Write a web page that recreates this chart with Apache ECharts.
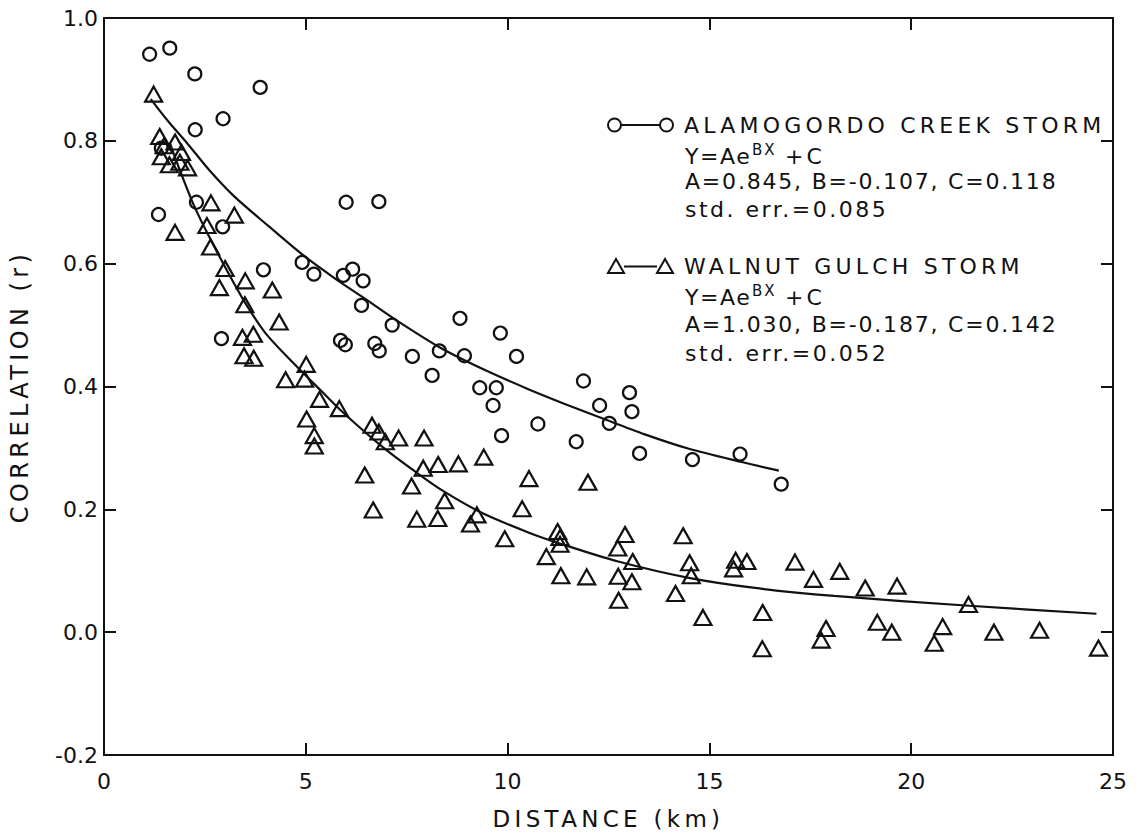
<!DOCTYPE html>
<html><head><meta charset="utf-8">
<script src="https://cdn.jsdelivr.net/npm/echarts@6/dist/echarts.min.js"></script>
<style>html,body{margin:0;padding:0;background:#fff}#c{width:1139px;height:837px}</style>
</head><body><div id="c"></div>
<script>
// ---- data ----
const seriesNames = ['ALAMOGORDO CREEK STORM', 'WALNUT GULCH STORM'];
const formulaParts = ['Y=Ae', 'BX', '+C'];
const paramTexts = ['A=0.845, B=-0.107, C=0.118', 'A=1.030, B=-0.187, C=0.142'];
const errTexts = ['std. err.=0.085', 'std. err.=0.052'];
const xAxisName = 'DISTANCE (km)';
const yAxisName = 'CORRELATION (r)';

const alamogordoPoints = [
  [1.13,0.941],[1.63,0.951],[2.25,0.909],[3.87,0.887],[2.26,0.818],[2.95,0.836],
  [1.35,0.680],[2.29,0.700],[2.94,0.660],[6.00,0.700],[6.81,0.701],[3.95,0.590],
  [4.91,0.602],[5.20,0.583],[5.93,0.581],[6.16,0.591],[6.42,0.572],[6.38,0.532],
  [2.91,0.478],[5.86,0.475],[5.98,0.468],[7.14,0.500],[6.71,0.470],[6.82,0.458],
  [7.64,0.449],[8.31,0.458],[8.82,0.511],[8.93,0.450],[8.13,0.418],[9.82,0.487],
  [10.22,0.449],[9.31,0.398],[9.72,0.398],[9.64,0.369],[9.85,0.320],[10.75,0.339],
  [11.88,0.409],[11.70,0.310],[12.28,0.369],[12.52,0.340],[13.02,0.390],[13.08,0.359],
  [13.27,0.291],[14.58,0.281],[15.76,0.290],[16.78,0.241],[1.42,0.788]
];
const walnutPoints = [
  [1.23,0.876],[1.38,0.807],[1.49,0.792],[1.76,0.798],[1.92,0.781],[1.42,0.774],
  [1.62,0.761],[1.88,0.765],[2.07,0.756],[2.65,0.699],[3.23,0.679],[1.76,0.651],
  [2.55,0.662],[2.64,0.627],[3.00,0.592],[2.86,0.561],[3.50,0.572],[4.17,0.557],
  [3.49,0.533],[4.34,0.505],[3.43,0.480],[3.70,0.485],[3.47,0.450],[3.71,0.446],
  [4.50,0.411],[5.01,0.436],[4.97,0.412],[5.34,0.379],[5.83,0.364],[6.64,0.337],
  [6.81,0.326],[6.97,0.310],[5.02,0.347],[5.21,0.320],[5.21,0.303],[6.46,0.256],
  [6.67,0.199],[7.30,0.316],[7.93,0.316],[7.62,0.238],[7.91,0.267],[8.28,0.273],
  [8.78,0.274],[9.41,0.285],[8.44,0.214],[7.75,0.184],[8.27,0.185],[9.24,0.191],
  [9.08,0.176],[10.36,0.201],[10.53,0.250],[11.99,0.244],[9.93,0.152],[11.24,0.164],
  [11.30,0.154],[11.30,0.143],[10.96,0.123],[11.32,0.092],[11.96,0.090],[12.91,0.159],
  [12.73,0.137],[13.10,0.115],[12.74,0.091],[13.08,0.082],[12.75,0.052],[14.35,0.157],
  [14.51,0.113],[14.55,0.092],[14.16,0.063],[14.84,0.024],[15.65,0.117],[15.93,0.115],
  [15.60,0.103],[17.12,0.114],[17.58,0.086],[18.23,0.099],[18.86,0.072],[19.65,0.075],
  [21.42,0.045],[16.32,0.032],[16.31,-0.027],[17.89,0.006],[17.77,-0.013],[19.16,0.016],
  [19.52,0.000],[20.78,0.009],[20.57,-0.018],[22.05,0.000],[23.18,0.003],[24.64,-0.026]
];
const alamogordoFit = [
  [1.16,0.868],[1.6,0.831],[2.05,0.797],[2.6,0.753],[3.22,0.710],[4.08,0.661],
  [4.95,0.613],[5.7,0.577],[6.42,0.545],[7.24,0.508],[8.31,0.464],[9.4,0.428],
  [10.5,0.396],[11.4,0.372],[12.31,0.349],[13.4,0.322],[14.47,0.299],[15.8,0.277],[16.72,0.263]
];
const walnutFit = [
  [1.64,0.795],[1.88,0.752],[2.2,0.699],[2.55,0.651],[3.07,0.586],[3.49,0.537],
  [4.0,0.487],[4.71,0.437],[5.38,0.393],[5.95,0.356],[6.93,0.300],[7.74,0.260],
  [8.40,0.230],[9.37,0.194],[10.53,0.162],[11.31,0.144],[12.74,0.115],[14.52,0.088],
  [16.13,0.072],[18.09,0.059],[21.44,0.043],[24.59,0.030]
];

// ---- styling ----
const FONT = 'DejaVu Sans';
const INK = '#111111';
const markerStyle = {color: 'rgba(0,0,0,0)', borderColor: INK, borderWidth: 2.2, opacity: 1};
const iconCircle = 'path://M0,6.5A6.5,6.5,0,1,1,13,6.5A6.5,6.5,0,1,1,0,6.5ZM13,6.5L52,6.5M52,6.5A6.5,6.5,0,1,1,65,6.5A6.5,6.5,0,1,1,52,6.5Z';
const iconTri = 'path://M0,14L8,0L16,14ZM16,7.5L49,7.5M49,14L57,0L65,14Z';

// extra letter spacing (px) that mimics the wide lettering of the original
const spacing = {};
spacing[seriesNames[0]] = 4.2; spacing[seriesNames[1]] = 4.2;
spacing[paramTexts[0]] = 1.8; spacing[paramTexts[1]] = 1.8;
spacing[errTexts[0]] = 2.5; spacing[errTexts[1]] = 2.5;
spacing[formulaParts[0]] = 1.6; spacing[formulaParts[1]] = 2; spacing[formulaParts[2]] = 3;
spacing[xAxisName] = 4.3; spacing[yAxisName] = 4.4;

const axisCommon = {
  axisLine: {onZero: false, lineStyle: {color: INK, width: 2}},
  axisTick: {inside: true, length: 12, lineStyle: {color: INK, width: 2}},
  splitLine: {show: false}
};
const labelStyle = {fontSize: 22, fontFamily: FONT, color: INK};

const chart = echarts.init(document.getElementById('c'), null, {renderer: 'svg'});
const rowY = [[125, 154, 181, 209], [266, 295, 324, 353]];
const graphics = [];
rowY.forEach((r, i) => {
  graphics.push({type: 'text', x: 685, y: r[1] + 2, style: {text: formulaParts[0], font: '22px ' + FONT, fill: INK, verticalAlign: 'middle'}});
  graphics.push({type: 'text', x: 752, y: r[1] - 4, style: {text: formulaParts[1], font: '15px ' + FONT, fill: INK, verticalAlign: 'middle'}});
  graphics.push({type: 'text', x: 785, y: r[1] + 2, style: {text: formulaParts[2], font: '22px ' + FONT, fill: INK, verticalAlign: 'middle'}});
  graphics.push({type: 'text', x: 685, y: r[2], style: {text: paramTexts[i], font: '22px ' + FONT, fill: INK, verticalAlign: 'middle'}});
  graphics.push({type: 'text', x: 685, y: r[3], style: {text: errTexts[i], font: '22px ' + FONT, fill: INK, verticalAlign: 'middle'}});
});

chart.setOption({
  animation: false,
  backgroundColor: '#fff',
  grid: {left: 104, right: 26, top: 18, bottom: 82, outerBoundsMode: 'none', containLabel: false},
  legend: {
    data: [{name: seriesNames[0], icon: iconCircle}, {name: seriesNames[1], icon: iconTri}],
    orient: 'vertical', left: 607, top: 114, padding: 0,
    itemWidth: 65, itemHeight: 14, itemGap: 119, selectedMode: false,
    itemStyle: {borderWidth: 2},
    textStyle: {fontSize: 22, fontFamily: FONT, color: INK, padding: [0, 0, 0, 6]}
  },
  xAxis: [
    Object.assign({type: 'value', min: 0, max: 25, interval: 5, position: 'bottom',
      axisLabel: Object.assign({margin: 15}, labelStyle),
      name: xAxisName, nameLocation: 'middle', nameGap: 52,
      nameTextStyle: {fontSize: 23, fontFamily: FONT, color: INK}}, axisCommon),
    Object.assign({type: 'value', min: 0, max: 25, interval: 5, position: 'top',
      axisLabel: {show: false}}, axisCommon)
  ],
  yAxis: [
    Object.assign({type: 'value', min: -0.2, max: 1.0, interval: 0.2, position: 'left',
      axisLabel: Object.assign({margin: 6, formatter: v => v.toFixed(1)}, labelStyle),
      name: yAxisName, nameLocation: 'middle', nameGap: 72,
      nameTextStyle: {fontSize: 24, fontFamily: FONT, color: INK}}, axisCommon),
    Object.assign({type: 'value', min: -0.2, max: 1.0, interval: 0.2, position: 'right',
      axisLabel: {show: false}}, axisCommon)
  ],
  graphic: graphics,
  series: [
    {type: 'scatter', name: seriesNames[0], data: alamogordoPoints, symbol: 'circle', symbolSize: 13,
      itemStyle: markerStyle, z: 3},
    {type: 'scatter', name: seriesNames[1], data: walnutPoints, symbol: 'triangle', symbolSize: [17, 15],
      itemStyle: markerStyle, z: 3},
    {type: 'line', name: 'alamogordo fit', data: alamogordoFit, symbol: 'none', smooth: 0.3,
      lineStyle: {color: INK, width: 2.2}, z: 4},
    {type: 'line', name: 'walnut fit', data: walnutFit, symbol: 'none', smooth: 0.3,
      lineStyle: {color: INK, width: 2.2}, z: 4}
  ]
});

function applySpacing() {
  document.querySelectorAll('#c svg text').forEach(t => {
    const s = spacing[t.textContent];
    if (s != null && t.style.letterSpacing !== s + 'px') t.style.letterSpacing = s + 'px';
  });
}
applySpacing();
chart.on('finished', applySpacing);
setTimeout(applySpacing, 30);
</script></body></html>
